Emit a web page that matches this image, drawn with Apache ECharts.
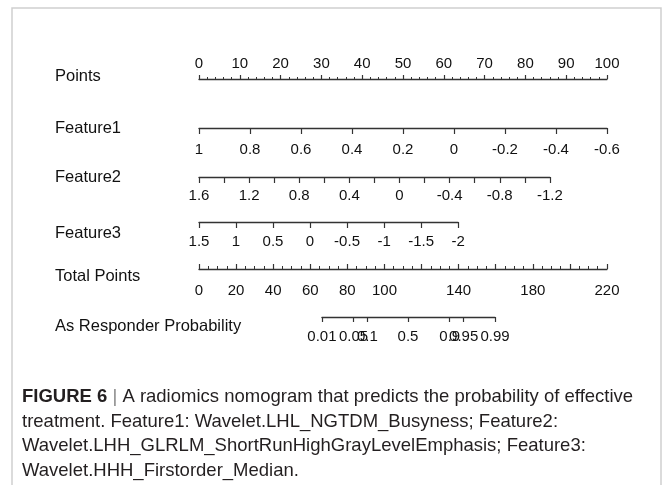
<!DOCTYPE html>
<html>
<head>
<meta charset="utf-8">
<script src="https://cdn.jsdelivr.net/npm/echarts@6/dist/echarts.min.js"></script>
<style>
html,body{margin:0;padding:0;background:#fff}
#main{width:664px;height:485px}
</style>
</head>
<body>
<div id="main"></div>
<script>
// nomogram scales
var rowNames = ['Points', 'Feature1', 'Feature2', 'Feature3', 'Total Points', 'As Responder Probability'];
var pointsRange = [0, 100];
var feature1Range = [1, -0.6];
var feature2Range = [1.6, -1.2];
var feature3Range = [1.5, -2];
var featureMaxPoints = [100, 86, 63.5];   // points at the right end of each feature line
var totalRange = [0, 220];
var totalLabels = [0, 20, 40, 60, 80, 100, 140, 180, 220];
var probLabels = ['0.01', '0.05', '0.1', '0.5', '0.9', '0.95', '0.99'];
var probTotalPoints = [66.3, 83.3, 90.8, 112.7, 135.2, 142.7, 159.6];

var captionLines = [
    'treatment. Feature1: Wavelet.LHL_NGTDM_Busyness; Feature2:',
    'Wavelet.LHH_GLRLM_ShortRunHighGrayLevelEmphasis; Feature3:',
    'Wavelet.HHH_Firstorder_Median.'
];

var X0 = 199, W = 408;
var lineY = [79, 128, 177, 222, 269, 317];
var nameY = [77, 129, 178, 234, 277, 327];
var font = 'Liberation Sans, Arial, sans-serif';
var axisColor = '#333';

function fmt(v) {
    var r = Math.round(v * 100) / 100;
    return String(r);
}

var grids = [], xAxes = [], yAxes = [];
function addRow(i, left, width, axis) {
    var top = axis.position === 'top' ? lineY[i] : lineY[i] - 10;
    grids.push({left: left, top: top, width: width, height: 10});
    axis.gridIndex = i;
    axis.type = 'value';
    axis.axisLine = {show: true, onZero: false, lineStyle: {color: axisColor, width: 1.3}};
    axis.splitLine = {show: false};
    axis.axisTick = Object.assign({show: true, length: 6, lineStyle: {color: axisColor, width: 1.2}}, axis.axisTick || {});
    axis.axisLabel = Object.assign({color: '#111', fontSize: 15, fontFamily: font, showMinLabel: true, showMaxLabel: true}, axis.axisLabel || {});
    xAxes.push(axis);
    yAxes.push({gridIndex: i, type: 'value', show: false});
}

// Points
addRow(0, X0, W, {
    position: 'top', min: pointsRange[0], max: pointsRange[1], interval: 10,
    axisTick: {length: 4},
    minorTick: {show: true, splitNumber: 5, length: 2, lineStyle: {color: axisColor, width: 1}},
    axisLabel: {margin: 8}
});
// Feature1
addRow(1, X0, W * featureMaxPoints[0] / 100, {
    position: 'bottom', inverse: true,
    min: feature1Range[1], max: feature1Range[0], interval: 0.2,
    axisLabel: {margin: 14, formatter: fmt}
});
// Feature2
addRow(2, X0, W * featureMaxPoints[1] / 100, {
    position: 'bottom', inverse: true,
    min: feature2Range[1], max: feature2Range[0], interval: 0.2,
    axisLabel: {margin: 11, formatter: function (v) {
        return Math.round(v * 10) % 4 === 0 ? fmt(v) : '';
    }}
});
// Feature3
addRow(3, X0, W * featureMaxPoints[2] / 100, {
    position: 'bottom', inverse: true,
    min: feature3Range[1], max: feature3Range[0], interval: 0.5,
    axisLabel: {margin: 12, formatter: fmt}
});
// Total Points
addRow(4, X0, W, {
    position: 'bottom', min: totalRange[0], max: totalRange[1], interval: 20,
    axisTick: {inside: true, length: 5},
    minorTick: {show: true, splitNumber: 4, length: 3, lineStyle: {color: axisColor, width: 1}},
    axisLabel: {margin: 14, formatter: function (v) {
        return totalLabels.indexOf(Math.round(v)) >= 0 ? String(Math.round(v)) : '';
    }}
});
// Probability
var pxPerTotal = W / (totalRange[1] - totalRange[0]);
var pMin = probTotalPoints[0], pMax = probTotalPoints[probTotalPoints.length - 1];
addRow(5, X0 + pMin * pxPerTotal, (pMax - pMin) * pxPerTotal, {
    position: 'bottom', min: pMin, max: pMax,
    axisTick: {length: 5, customValues: probTotalPoints},
    axisLabel: {margin: 12, customValues: probTotalPoints, hideOverlap: false, formatter: function (v) {
        var k = probTotalPoints.indexOf(v);
        return k >= 0 ? probLabels[k] : '';
    }}
});

var graphics = [{
    type: 'rect', silent: true,
    shape: {x: 12, y: 8, width: 649, height: 520},
    style: {fill: 'none', stroke: '#cfcfcf', lineWidth: 1.5}
}];
rowNames.forEach(function (name, i) {
    graphics.push({
        type: 'text', left: 55, top: nameY[i] - 9,
        style: {text: name, fill: '#111', font: '16.5px ' + font}
    });
});
var capFont = 18.5;
graphics.push({
    type: 'text', left: 22, top: 387,
    style: {
        text: '{b|FIGURE 6} {s||} A radiomics nomogram that predicts the probability of effective',
        fill: '#231f20', font: capFont + 'px ' + font,
        rich: {
            b: {fontWeight: 'bold', fontSize: capFont, fontFamily: font, fill: '#231f20'},
            s: {fontSize: capFont, fontFamily: font, fill: '#888'}
        }
    }
});
captionLines.forEach(function (t, i) {
    graphics.push({
        type: 'text', left: 22, top: 412 + i * 24.5,
        style: {text: t, fill: '#231f20', font: capFont + 'px ' + font}
    });
});

var chart = echarts.init(document.getElementById('main'));
chart.setOption({
    animation: false,
    backgroundColor: '#fff',
    grid: grids,
    xAxis: xAxes,
    yAxis: yAxes,
    series: [],
    graphic: graphics
});
</script>
</body>
</html>
